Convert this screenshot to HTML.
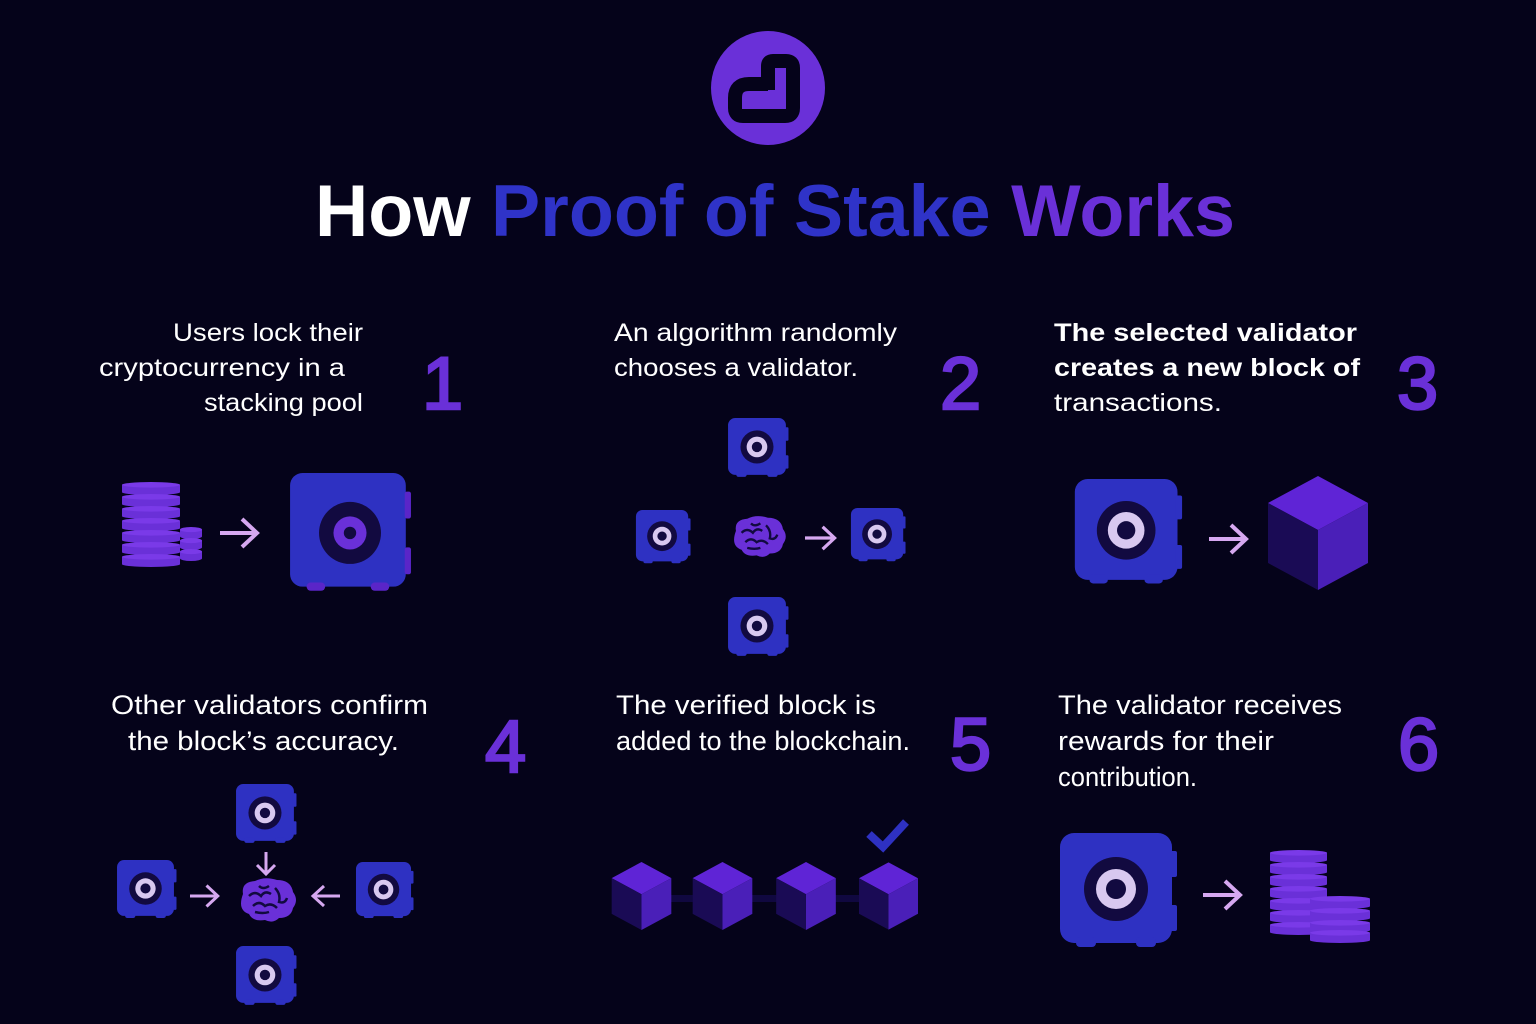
<!DOCTYPE html>
<html><head><meta charset="utf-8"><style>
html,body{margin:0;padding:0;background:#05031a;}
svg{display:block;}
text{font-family:"Liberation Sans",sans-serif;}
</style></head><body>
<svg width="1536" height="1024" viewBox="0 0 1536 1024" xmlns="http://www.w3.org/2000/svg">
<defs>
<symbol id="safe" viewBox="0 0 120 120">
  <rect x="2" y="0" width="112" height="110" rx="12" fill="#2e31c2"/>
  <rect x="113" y="18" width="6" height="26" rx="2" fill="#5a25c8"/>
  <rect x="113" y="72" width="6" height="26" rx="2" fill="#5a25c8"/>
  <rect x="18" y="106" width="18" height="8" rx="4" fill="#5a25c8"/>
  <rect x="80" y="106" width="18" height="8" rx="4" fill="#5a25c8"/>
  <circle cx="60" cy="58" r="30" fill="#120a40"/>
  <circle cx="60" cy="58" r="16" fill="#6a30d8"/>
  <circle cx="60" cy="58" r="6" fill="#120a40"/>
</symbol>
<symbol id="safeS" viewBox="0 0 120 120">
  <rect x="2" y="0" width="112" height="110" rx="14" fill="#2e31c2"/>
  <rect x="112" y="18" width="7" height="26" rx="2" fill="#2e31c2"/>
  <rect x="112" y="72" width="7" height="26" rx="2" fill="#2e31c2"/>
  <rect x="18" y="104" width="20" height="10" rx="4" fill="#2e31c2"/>
  <rect x="78" y="104" width="20" height="10" rx="4" fill="#2e31c2"/>
  <circle cx="58" cy="56" r="32" fill="#120a40"/>
  <circle cx="58" cy="56" r="20" fill="#d8c8f0"/>
  <circle cx="58" cy="56" r="10" fill="#120a40"/>
</symbol>
<symbol id="cube" viewBox="0 0 100 114">
  <polygon points="50,0 100,27 50,54 0,27" fill="#5f24d6"/>
  <polygon points="0,27 50,54 50,114 0,87" fill="#1a0b55"/>
  <polygon points="100,27 50,54 50,114 100,87" fill="#4a1fb8"/>
</symbol>
<symbol id="brain" viewBox="0 0 64 50">
  <path d="M8 18 Q6 6 20 5 Q30 0 42 4 Q56 4 58 16 Q64 24 58 32 Q56 42 44 42 Q38 48 30 44 Q18 46 14 38 Q2 34 8 18Z" fill="#6a30d8"/>
  <path d="M14 20 Q20 14 26 20 Q30 14 36 18 M18 30 Q24 24 30 30 Q36 26 42 32 M40 12 Q46 18 44 26 Q50 28 52 22 M24 10 Q28 14 34 10 M20 36 Q28 38 34 36" stroke="#120a40" stroke-width="2.5" fill="none"/>
</symbol>
<symbol id="coin" viewBox="0 0 60 14" preserveAspectRatio="none">
  <rect x="0" y="3" width="60" height="8" fill="#6a30d8"/>
  <ellipse cx="30" cy="3" rx="30" ry="3" fill="#7a3ae8"/>
  <ellipse cx="30" cy="11" rx="30" ry="3" fill="#6a30d8"/>
</symbol>
<g id="arr"><path d="M0 0 H36 M22 -14 L37 0 L22 14" stroke="#d6a8f0" stroke-width="4" fill="none"/></g>
</defs>

<!-- logo -->
<circle cx="768" cy="88" r="57" fill="#6a30d8"/>
<path d="M768 90 V66 Q768 61 773 61 H786 Q793 61 793 68 V108 Q793 116 785 116 H743 Q735 116 735 108 V98 Q735 84 749 84 H768" stroke="#05031a" stroke-width="14" fill="none" stroke-linejoin="round"/>

<text x="315" y="236" textLength="920" lengthAdjust="spacingAndGlyphs" font-size="73" font-weight="bold"><tspan fill="#ffffff">How </tspan><tspan fill="#2f33c8">Proof of Stake </tspan><tspan fill="#6a30d8">Works</tspan></text>

<!-- step texts -->
<g fill="#ffffff" font-size="25">
<text x="173" y="341" textLength="190" lengthAdjust="spacingAndGlyphs">Users lock their</text>
<text x="99" y="376" textLength="246" lengthAdjust="spacingAndGlyphs">cryptocurrency in a</text>
<text x="204" y="411" textLength="159" lengthAdjust="spacingAndGlyphs">stacking pool</text>
<text x="614" y="341" textLength="283" lengthAdjust="spacingAndGlyphs">An algorithm randomly</text>
<text x="614" y="376" textLength="244" lengthAdjust="spacingAndGlyphs">chooses a validator.</text>
<text x="1054" y="341" font-weight="bold" textLength="303" lengthAdjust="spacingAndGlyphs">The selected validator</text>
<text x="1054" y="376" font-weight="bold" textLength="306" lengthAdjust="spacingAndGlyphs">creates a new block of</text>
<text x="1054" y="411" textLength="168" lengthAdjust="spacingAndGlyphs">transactions.</text>
<text x="111" y="714" font-size="27" textLength="317" lengthAdjust="spacingAndGlyphs">Other validators confirm</text>
<text x="128" y="750" font-size="27" textLength="271" lengthAdjust="spacingAndGlyphs">the block’s accuracy.</text>
<text x="616" y="714" font-size="27" textLength="260" lengthAdjust="spacingAndGlyphs">The verified block is</text>
<text x="616" y="750" font-size="27" textLength="294" lengthAdjust="spacingAndGlyphs">added to the blockchain.</text>
<text x="1058" y="714" font-size="27" textLength="284" lengthAdjust="spacingAndGlyphs">The validator receives</text>
<text x="1058" y="750" font-size="27" textLength="216" lengthAdjust="spacingAndGlyphs">rewards for their</text>
<text x="1058" y="786" font-size="27" textLength="139" lengthAdjust="spacingAndGlyphs">contribution.</text>
</g>
<g fill="#6a30d8" stroke="#6a30d8" stroke-width="2.5" font-size="74">
<text x="422" y="409">1</text>
<text x="940" y="409">2</text>
<text x="1397" y="409">3</text>
<text x="485" y="772">4</text>
<text x="950" y="770">5</text>
<text x="1398" y="770">6</text>
</g>

<!-- step 1 -->
<g>
<use href="#coin" x="122" y="482" width="58" height="13"/>
<use href="#coin" x="122" y="494" width="58" height="13"/>
<use href="#coin" x="122" y="506" width="58" height="13"/>
<use href="#coin" x="122" y="518" width="58" height="13"/>
<use href="#coin" x="122" y="530" width="58" height="13"/>
<use href="#coin" x="122" y="542" width="58" height="13"/>
<use href="#coin" x="122" y="554" width="58" height="13"/>
<use href="#coin" x="180" y="527" width="22" height="12"/>
<use href="#coin" x="180" y="538" width="22" height="12"/>
<use href="#coin" x="180" y="549" width="22" height="12"/>
</g>
<use href="#arr" transform="translate(220,533)"/>
<use href="#safe" x="288" y="473" width="124" height="124"/>

<!-- step 2 -->
<use href="#safeS" x="727" y="418" width="62" height="62"/>
<use href="#safeS" x="635" y="510" width="56" height="56"/>
<use href="#safeS" x="850" y="508" width="56" height="56"/>
<use href="#safeS" x="727" y="597" width="62" height="62"/>
<use href="#brain" x="727" y="514" width="63" height="47"/>
<use href="#arr" transform="translate(805,538) scale(0.8)"/>

<!-- step 3 -->
<use href="#safeS" x="1073" y="479" width="110" height="110"/>
<use href="#arr" transform="translate(1209,539)"/>
<use href="#cube" x="1268" y="476" width="100" height="114"/>

<!-- step 4 -->
<use href="#safeS" x="235" y="784" width="62" height="62"/>
<use href="#safeS" x="116" y="860" width="61" height="61"/>
<use href="#safeS" x="355" y="862" width="59" height="59"/>
<use href="#safeS" x="235" y="946" width="62" height="62"/>
<use href="#brain" x="235" y="872" width="64" height="58"/>
<path d="M266 852 V873 M257 865 L266 874 L275 865" stroke="#d6a8f0" stroke-width="3" fill="none"/>
<use href="#arr" transform="translate(190,896) scale(0.75)"/>
<path d="M340 896 H314 M324 886 L313 896 L324 906" stroke="#d6a8f0" stroke-width="3" fill="none"/>

<!-- step 5 -->
<rect x="640" y="895" width="260" height="7" fill="#100840"/>
<use href="#cube" x="611" y="862" width="61" height="68"/>
<use href="#cube" x="692" y="862" width="61" height="68"/>
<use href="#cube" x="776" y="862" width="60" height="68"/>
<use href="#cube" x="859" y="862" width="59" height="68"/>
<path d="M869 834 L883 847 L906 822" stroke="#2e31c2" stroke-width="8" fill="none"/>

<!-- step 6 -->
<use href="#safeS" x="1058" y="833" width="120" height="120"/>
<use href="#arr" transform="translate(1203,895)"/>
<g>
<use href="#coin" x="1270" y="850" width="57" height="13"/>
<use href="#coin" x="1270" y="862" width="57" height="13"/>
<use href="#coin" x="1270" y="874" width="57" height="13"/>
<use href="#coin" x="1270" y="886" width="57" height="13"/>
<use href="#coin" x="1270" y="898" width="57" height="13"/>
<use href="#coin" x="1270" y="910" width="57" height="13"/>
<use href="#coin" x="1270" y="922" width="57" height="13"/>
<use href="#coin" x="1310" y="896" width="60" height="13"/>
<use href="#coin" x="1310" y="908" width="60" height="13"/>
<use href="#coin" x="1310" y="920" width="60" height="13"/>
<use href="#coin" x="1310" y="930" width="60" height="13"/>
</g>
</svg>
</body></html>
